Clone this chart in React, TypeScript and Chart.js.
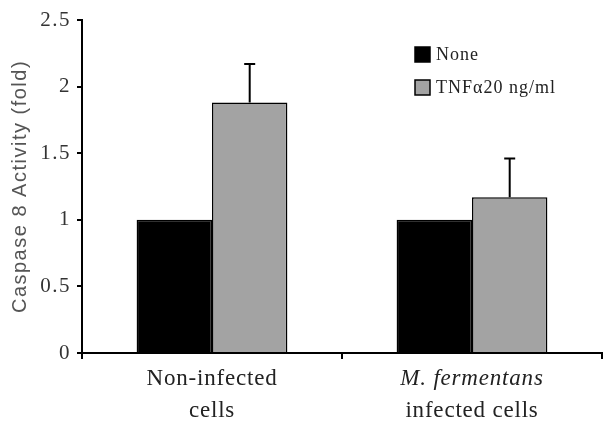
import React, { useEffect, useRef } from "react";
import { Chart, registerables } from "chart.js";

Chart.register(...registerables);

const categoryLines = [["Non-infected", "cells"], ["M. fermentans", "infected cells"]];
const categoryItalicFirst = [false, true];
const seriesLabels = ["None", "TNFα20 ng/ml"];
const noneValues = [1.0, 1.0];
const tnfValues = [1.88, 1.17];
const noneErrors = [0, 0];
const tnfErrors = [0.29, 0.29];
const yMin = 0;
const yMax = 2.5;
const yStep = 0.5;

const SERIF = "'Liberation Serif', 'Times New Roman', serif";

const spacingPlugin = {
  id: "spacing",
  beforeDraw(chart: any) {
    try { chart.ctx.letterSpacing = "1.5px"; } catch (e) {}
  },
};

const errorBarPlugin = {
  id: "errorBars",
  afterDatasetsDraw(chart: any) {
    const ctx = chart.ctx;
    const errs = [noneErrors, tnfErrors];
    chart.data.datasets.forEach((ds: any, di: number) => {
      const meta = chart.getDatasetMeta(di);
      meta.data.forEach((bar: any, i: number) => {
        const e = errs[di][i];
        if (!e) return;
        const v = ds.data[i];
        const yTop = chart.scales.y.getPixelForValue(v + e);
        const yBase = chart.scales.y.getPixelForValue(v);
        ctx.save();
        ctx.strokeStyle = "#000";
        ctx.lineWidth = 2;
        ctx.beginPath();
        ctx.moveTo(bar.x, yBase);
        ctx.lineTo(bar.x, yTop);
        ctx.moveTo(bar.x - 5.5, yTop);
        ctx.lineTo(bar.x + 5.5, yTop);
        ctx.stroke();
        ctx.restore();
      });
    });
  },
};

const customLabelsPlugin = {
  id: "customLabels",
  afterDraw(chart: any) {
    const ctx = chart.ctx;
    const xs = chart.scales.x;
    const bottom = chart.chartArea.bottom;
    ctx.save();
    ctx.fillStyle = "#222";
    ctx.textAlign = "center";
    ctx.textBaseline = "middle";
    try { ctx.letterSpacing = "0.8px"; } catch (e) {}
    categoryLines.forEach((lines, i) => {
      const cx = xs.getPixelForValue(i);
      lines.forEach((line, li) => {
        const italic = li === 0 && categoryItalicFirst[i];
        ctx.font = `${italic ? "italic " : ""}23px ${SERIF}`;
        ctx.fillText(line, cx, bottom + 26 + li * 32);
      });
    });
    // legend
    const ca = chart.chartArea;
    const lx = ca.left + 333;
    ctx.textAlign = "left";
    try { ctx.letterSpacing = "1px"; } catch (e) {}
    ctx.font = `18px ${SERIF}`;
    chart.data.datasets.forEach((ds: any, di: number) => {
      const top = ca.top + 27 + di * 33;
      ctx.fillStyle = ds.backgroundColor;
      ctx.fillRect(lx, top, 15, 15);
      ctx.strokeStyle = "#000";
      ctx.lineWidth = 1.5;
      ctx.strokeRect(lx, top, 15, 15);
      ctx.fillStyle = "#222";
      ctx.fillText(ds.label, lx + 21, top + 8);
    });
    ctx.restore();
  },
};

export default function App() {
  const ref = useRef<HTMLCanvasElement>(null);
  useEffect(() => {
    const chart = new Chart(ref.current!, {
      type: "bar",
      data: {
        labels: categoryLines.map((l) => l.join(" ")),
        datasets: [
          { label: seriesLabels[0], data: noneValues, backgroundColor: "#000000", borderColor: "#000", borderWidth: 1.5 },
          { label: seriesLabels[1], data: tnfValues, backgroundColor: "#a3a3a3", borderColor: "#000", borderWidth: 1.5 },
        ],
      },
      options: {
        animation: false,
        responsive: false,
        maintainAspectRatio: false,
        layout: { padding: { top: 20, right: 10, left: 0, bottom: 0 } },
        plugins: { legend: { display: false }, tooltip: { enabled: false } },
        datasets: { bar: { categoryPercentage: 0.58, barPercentage: 1.0 } },
        scales: {
          x: {
            grid: { display: true, drawOnChartArea: false, color: "#000", lineWidth: 2, tickLength: 6, offset: true },
            border: { display: true, color: "#000", width: 2 },
            ticks: { display: false },
            afterFit: (s: any) => { s.height = 68; },
          },
          y: {
            min: yMin,
            max: yMax,
            ticks: { stepSize: yStep, color: "#333", font: { family: SERIF, size: 21 }, padding: 6, callback: (v: any) => String(v) },
            grid: { display: true, drawOnChartArea: false, color: "#000", lineWidth: 2, tickLength: 5 },
            border: { display: true, color: "#000", width: 2 },
            title: { display: true, text: "Caspase 8 Activity (fold)", color: "#555", font: { family: "'Liberation Sans', Arial, sans-serif", size: 20 }, padding: { top: 8, bottom: 4 } },
            afterFit: (s: any) => { s.width = 82; },
          },
        },
      },
      plugins: [spacingPlugin, errorBarPlugin, customLabelsPlugin],
    });
    return () => chart.destroy();
  }, []);
  return (
    <div style={{ position: "fixed", left: 0, top: 0, width: 612, height: 421, background: "#fff" }}>
      <canvas ref={ref} width={612} height={421} style={{ width: 612, height: 421 }} />
    </div>
  );
}
